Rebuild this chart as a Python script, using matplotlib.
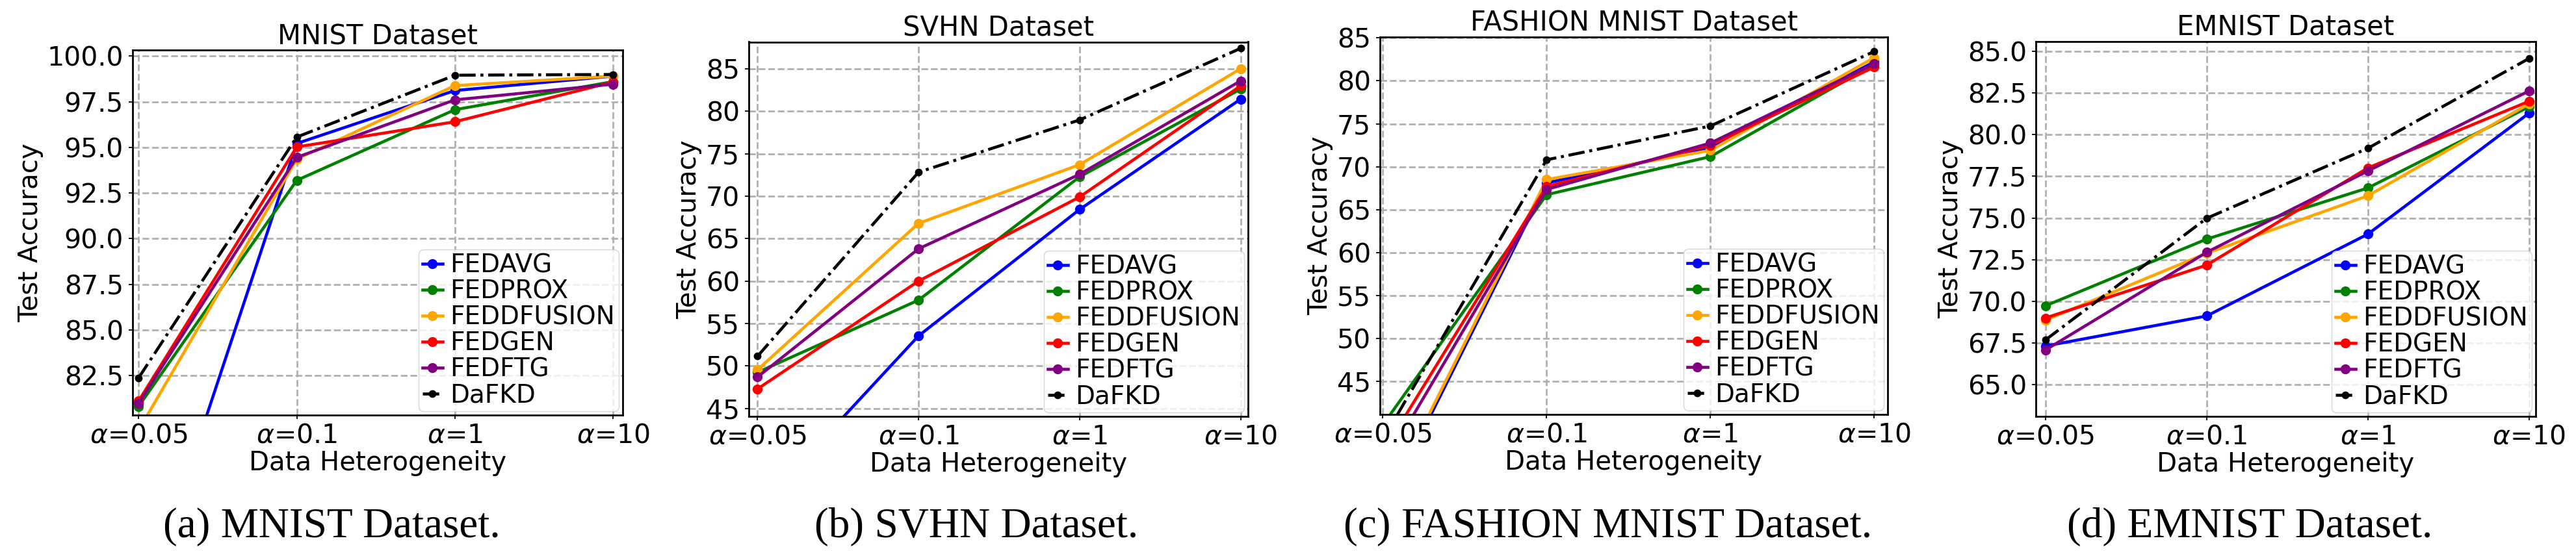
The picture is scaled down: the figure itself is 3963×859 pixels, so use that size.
import matplotlib
matplotlib.use("Agg")
import matplotlib.pyplot as plt
import numpy as np

# ---------------- data ----------------
x_labels = [r'$\alpha$=0.05', r'$\alpha$=0.1', r'$\alpha$=1', r'$\alpha$=10']
methods = ['FEDAVG', 'FEDPROX', 'FEDDFUSION', 'FEDGEN', 'FEDFTG', 'DaFKD']
colors = ['blue', 'green', 'orange', 'red', 'purple', 'black']

mnist_fedavg = [69.05, 95.21, 98.11, 98.90]
mnist_fedprox = [80.81, 93.19, 97.06, 98.60]
mnist_feddfusion = [79.51, 94.35, 98.38, 98.90]
mnist_fedgen = [81.10, 95.02, 96.40, 98.58]
mnist_fedftg = [80.98, 94.45, 97.60, 98.46]
mnist_dafkd = [82.37, 95.56, 98.95, 98.99]

svhn_fedavg = [33.1, 53.55, 68.43, 81.42]
svhn_fedprox = [49.25, 57.76, 72.27, 82.60]
svhn_feddfusion = [49.55, 66.80, 73.70, 85.00]
svhn_fedgen = [47.30, 60.00, 69.90, 82.98]
svhn_fedftg = [48.70, 63.80, 72.57, 83.57]
svhn_dafkd = [51.15, 72.82, 78.97, 87.40]

fashion_fedavg = [29.9, 68.10, 72.25, 82.20]
fashion_fedprox = [39.92, 66.74, 71.17, 81.90]
fashion_feddfusion = [30.4, 68.50, 71.90, 82.70]
fashion_fedgen = [36.72, 67.70, 72.50, 81.60]
fashion_fedftg = [35.04, 67.35, 72.75, 82.00]
fashion_dafkd = [38.22, 70.80, 74.74, 83.42]

emnist_fedavg = [67.32, 69.12, 74.03, 81.29]
emnist_fedprox = [69.73, 73.73, 76.80, 81.67]
emnist_feddfusion = [68.87, 72.88, 76.33, 81.85]
emnist_fedgen = [69.00, 72.17, 78.00, 82.00]
emnist_fedftg = [67.08, 72.94, 77.82, 82.62]
emnist_dafkd = [67.68, 74.98, 79.18, 84.57]

titles = ['MNIST Dataset', 'SVHN Dataset', 'FASHION MNIST Dataset', 'EMNIST Dataset']
captions = ['(a) MNIST Dataset.', '(b) SVHN Dataset.',
            '(c) FASHION MNIST Dataset.', '(d) EMNIST Dataset.']
mnist_yticks = [82.5, 85.0, 87.5, 90.0, 92.5, 95.0, 97.5, 100.0]
svhn_yticks = [45, 50, 55, 60, 65, 70, 75, 80, 85]
fashion_yticks = [45, 50, 55, 60, 65, 70, 75, 80, 85]
emnist_yticks = [65.0, 67.5, 70.0, 72.5, 75.0, 77.5, 80.0, 82.5, 85.0]

datasets = [
    [mnist_fedavg, mnist_fedprox, mnist_feddfusion, mnist_fedgen, mnist_fedftg, mnist_dafkd],
    [svhn_fedavg, svhn_fedprox, svhn_feddfusion, svhn_fedgen, svhn_fedftg, svhn_dafkd],
    [fashion_fedavg, fashion_fedprox, fashion_feddfusion, fashion_fedgen, fashion_fedftg, fashion_dafkd],
    [emnist_fedavg, emnist_fedprox, emnist_feddfusion, emnist_fedgen, emnist_fedftg, emnist_dafkd],
]
yticks_all = [mnist_yticks, svhn_yticks, fashion_yticks, emnist_yticks]
ytick_fmt = ['{:.1f}', '{:.0f}', '{:.0f}', '{:.1f}']
ylims = [(80.33, 100.33), (44.07, 88.16), (41.15, 85.1), (63.1, 85.6)]
xlims = [(-0.038, 3.061), (-0.054, 3.046), (-0.017, 3.082), (-0.059, 3.041)]

# ---------------- layout ----------------
W, H = 3963, 859
DPI = 100
fig = plt.figure(figsize=(W / DPI, H / DPI), dpi=DPI)

# axes boxes in pixels: left, right, top, bottom
boxes = [(204, 958, 77, 639), (1152, 1920, 64.5, 641),
         (2123, 2904, 57, 638), (3132, 3901, 63.5, 641)]
cap_x = [510, 1502, 2473, 3461]

for i in range(4):
    l, r, t, b = boxes[i]
    ax = fig.add_axes([l / W, 1 - b / H, (r - l) / W, (b - t) / H])
    xs = np.arange(len(x_labels))
    for j, (name, c) in enumerate(zip(methods, colors)):
        ys = datasets[i][j]
        if name == 'DaFKD':
            ax.plot(xs, ys, linestyle=(0, (5.5, 1.6, 1.0, 1.6)), color=c,
                    marker='o', markersize=7.5, linewidth=3.3, label=name, zorder=3)
        else:
            ax.plot(xs, ys, linestyle='-', color=c, marker='o', markersize=10,
                    linewidth=3.3, label=name, zorder=2)
    ax.set_xticks(xs)
    ax.set_xticklabels(x_labels)
    ax.set_yticks(yticks_all[i])
    ax.set_yticklabels([ytick_fmt[i].format(v) for v in yticks_all[i]])
    ax.set_xlim(*xlims[i])
    ax.set_ylim(*ylims[i])
    ax.tick_params(axis='both', labelsize=29.5, length=4.5, width=1.3)
    ax.tick_params(axis='y', pad=5.5)
    ax.grid(True, linestyle='--', color='#b0b0b0', linewidth=2)
    for sp in ax.spines.values():
        sp.set_linewidth(2)
    ax.set_title(titles[i], fontsize=30, pad=6)
    ax.set_xlabel('Data Heterogeneity', fontsize=29, labelpad=2)
    ax.set_ylabel('Test Accuracy', fontsize=29, labelpad=4)
    ax.legend(loc='lower right', fontsize=28, handlelength=0.8,
              handletextpad=0.3, labelspacing=0.05, borderpad=0.15,
              borderaxespad=0.15, framealpha=0.8)
    fig.text(cap_x[i] / W, 1 - 827 / H, captions[i], ha='center', va='baseline',
             fontsize=47, family=['Liberation Serif', 'DejaVu Serif'])

fig.savefig('out.png', dpi=DPI)
